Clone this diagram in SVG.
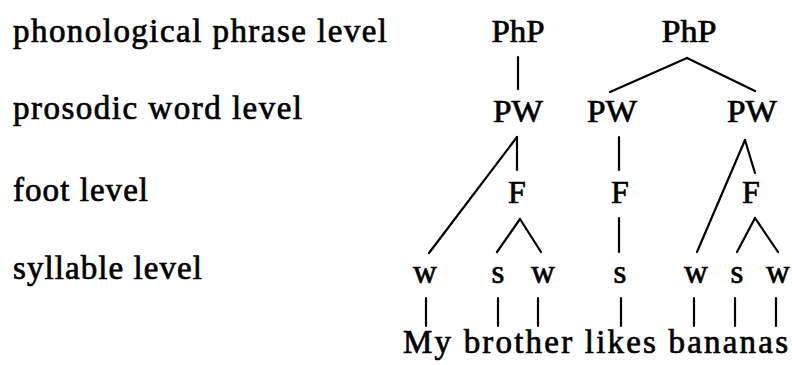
<svg xmlns="http://www.w3.org/2000/svg" width="792" height="365" viewBox="0 0 792 365">
<style>
text{font-family:"Liberation Serif","Times New Roman",serif;fill:#000;stroke:#000;stroke-width:0.7}
.lab{font-size:33px}
.n{font-size:32px;text-anchor:middle}
.s{font-size:33px;text-anchor:middle}
.c line{stroke:#000;stroke-width:2.2;stroke-linecap:round}
</style>
<rect width="792" height="365" fill="#fff"/>
<g id="levels">
<text class="lab" x="13" y="42" textLength="374" lengthAdjust="spacing">phonological phrase level</text>
<text class="lab" x="13" y="119" textLength="289" lengthAdjust="spacing">prosodic word level</text>
<text class="lab" x="13" y="201" textLength="135" lengthAdjust="spacing">foot level</text>
<text class="lab" x="13" y="279" textLength="189" lengthAdjust="spacing">syllable level</text>
</g>
<g id="php1"><text class="n" x="518" y="42" textLength="53" lengthAdjust="spacingAndGlyphs">PhP</text></g>
<g id="php2"><text class="n" x="689" y="42" textLength="55" lengthAdjust="spacingAndGlyphs">PhP</text></g>
<g id="pw1"><text class="n" x="518" y="122" textLength="50" lengthAdjust="spacingAndGlyphs">PW</text></g>
<g id="pw2"><text class="n" x="612" y="122" textLength="50" lengthAdjust="spacingAndGlyphs">PW</text></g>
<g id="pw3"><text class="n" x="752" y="122" textLength="50" lengthAdjust="spacingAndGlyphs">PW</text></g>
<g id="f1"><text class="n" x="517" y="203">F</text></g>
<g id="f2"><text class="n" x="620" y="203">F</text></g>
<g id="f3"><text class="n" x="751" y="203">F</text></g>
<g id="syl1"><text class="s" x="425" y="283">w</text></g>
<g id="syl2"><text class="s" x="498" y="283">s</text></g>
<g id="syl3"><text class="s" x="543" y="283">w</text></g>
<g id="syl4"><text class="s" x="620" y="283">s</text></g>
<g id="syl5"><text class="s" x="696" y="283">w</text></g>
<g id="syl6"><text class="s" x="737" y="283">s</text></g>
<g id="syl7"><text class="s" x="778" y="283">w</text></g>
<g id="sentence"><text class="lab" x="403" y="353" textLength="385" lengthAdjust="spacing">My brother likes bananas</text></g>
<g id="connectors" class="c">
<line x1="518" y1="57" x2="518" y2="89"/>
<line x1="687" y1="58" x2="610" y2="92"/>
<line x1="687" y1="58" x2="755" y2="91"/>
<line x1="517" y1="137" x2="429" y2="253"/>
<line x1="517" y1="137" x2="517" y2="170"/>
<line x1="619" y1="137" x2="619" y2="170"/>
<line x1="745" y1="140" x2="697" y2="252"/>
<line x1="745" y1="140" x2="755" y2="173"/>
<line x1="520" y1="219" x2="497" y2="252"/>
<line x1="520" y1="219" x2="541" y2="252"/>
<line x1="619" y1="218" x2="619" y2="252"/>
<line x1="755" y1="218" x2="737" y2="252"/>
<line x1="755" y1="218" x2="778" y2="252"/>
<line x1="426" y1="298" x2="426" y2="326"/>
<line x1="498" y1="298" x2="498" y2="326"/>
<line x1="538" y1="298" x2="538" y2="326"/>
<line x1="621" y1="298" x2="621" y2="326"/>
<line x1="694" y1="298" x2="694" y2="326"/>
<line x1="735" y1="298" x2="735" y2="326"/>
<line x1="776" y1="298" x2="776" y2="326"/>
</g>
</svg>
